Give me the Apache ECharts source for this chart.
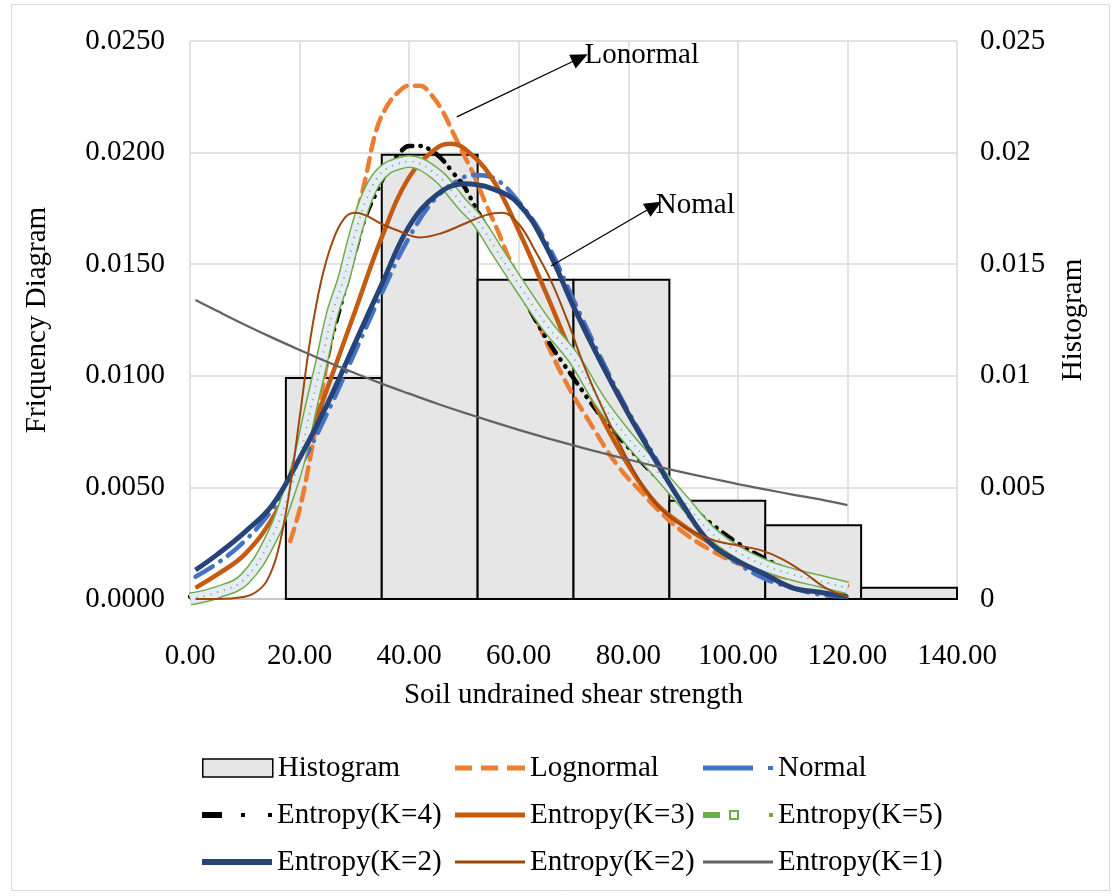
<!DOCTYPE html>
<html><head><meta charset="utf-8">
<script src="https://cdn.jsdelivr.net/npm/echarts/dist/echarts.min.js"></script>
<style>html,body{margin:0;padding:0;background:#fff}#c{width:1115px;height:896px}</style>
</head><body><div id="c"></div>
<script>
// ---------- data ----------
const histEdges  = [17.5, 35, 52.5, 70, 87.5, 105, 122.5, 140];
const histValues = [0.0099, 0.0199, 0.0143, 0.0143, 0.0044, 0.0033, 0.0005];

const lognormalX = [18.3,20,22,24,26,28,30,32,34,36,38,40,42,44,46,48,50,52,54,56,58,60,62,64,66,68,70,72,74,76,78,80,82,85,90,95,100,105,110,115,120];
const lognormalY = [0.0026,0.0040,0.0064,0.0092,0.0119,0.0143,0.0167,0.0188,0.0210,0.0221,0.0227,0.0230,0.0230,0.0226,0.0219,0.0209,0.0199,0.0189,0.0177,0.0166,0.0154,0.0143,0.0132,0.0121,0.0110,0.0100,0.0091,0.0083,0.0075,0.0067,0.0060,0.0054,0.0049,0.0041,0.0030,0.0022,0.0016,0.0012,0.0009,0.0007,0.0006];

const normalX = [1,5,10,15,20,25,30,35,40,45,50,52,55,60,65,70,75,80,85,90,95,100,105,110,115,120];
const normalY = [0.0010,0.0016,0.0026,0.0040,0.0059,0.0083,0.0110,0.0137,0.0162,0.0180,0.0189,0.0190,0.0189,0.0178,0.0160,0.0134,0.0108,0.0084,0.0063,0.0041,0.0026,0.0016,0.0009,0.0005,0.0002,0.0001];

const k4X = [0,5,10,15,18,20,22,24,26,28,30,32,34,36,38,40,42,44,46,48,50,52,54,56,60,65,70,75,80,85,90,95,100,105,110,115,120];
const k4Y = [0.0001,0.0003,0.0010,0.0028,0.0048,0.0065,0.0080,0.0098,0.0118,0.0136,0.0154,0.0171,0.0182,0.0192,0.0199,0.0203,0.0203,0.0201,0.0197,0.0191,0.0185,0.0176,0.0167,0.0159,0.0139,0.0117,0.0099,0.0082,0.0068,0.0055,0.0044,0.0034,0.0025,0.0018,0.0012,0.0008,0.0005];

const k3X = [1,5,10,15,20,25,30,35,40,45,47.5,50,55,60,65,70,75,80,85,90,95,100,105,110,115,120];
const k3Y = [0.0005,0.0011,0.0020,0.0036,0.0060,0.0094,0.0128,0.0162,0.0189,0.0202,0.0204,0.0202,0.0189,0.0165,0.0137,0.0108,0.0082,0.0060,0.0043,0.0033,0.0025,0.0018,0.0013,0.0010,0.0008,0.0006];

const k5X = [0,5,10,15,18,20,22,24,26,28,30,32,34,36,38,40,42,44,46,48,50,52,54,56,60,65,70,75,80,85,90,95,100,105,110,115,120];
const k5Y = [0.0000,0.0003,0.0009,0.0028,0.0047,0.0063,0.0085,0.0106,0.0128,0.0143,0.0162,0.0178,0.0188,0.0193,0.0195,0.0196,0.0195,0.0192,0.0188,0.0182,0.0176,0.0171,0.0164,0.0156,0.0141,0.0123,0.0108,0.0088,0.0072,0.0058,0.0044,0.0030,0.0021,0.0015,0.0011,0.0008,0.0005];

const k2X = [1,5,10,15,20,25,30,35,40,45,50,55,60,65,70,75,80,85,90,95,100,105,110,115,120];
const k2Y = [0.0013,0.0020,0.0030,0.0042,0.0063,0.0087,0.0114,0.0141,0.0167,0.0181,0.0186,0.0184,0.0177,0.0158,0.0131,0.0106,0.0083,0.0062,0.0042,0.0025,0.0017,0.0011,0.0005,0.0003,0.0001];

const k2bX = [1,5,10,12,14,16,18,20,22,24,26,28,30,32,35,38,42,46,50,54,57,60,63,66,69,72,75,80,84,88,92,96,100,104,108,112,116,120];
const k2bY = [0.0000,0.0000,0.0001,0.0003,0.0008,0.0021,0.0046,0.0081,0.0117,0.0143,0.0160,0.0170,0.0173,0.0172,0.0168,0.0165,0.0162,0.0164,0.0168,0.0172,0.0173,0.0168,0.0156,0.0142,0.0124,0.0104,0.0087,0.0062,0.0046,0.0036,0.0030,0.0026,0.0024,0.0022,0.0018,0.0012,0.0005,0.0001];

const k1X = [1,5,10,15,20,25,30,35,40,45,50,55,60,65,70,75,80,85,90,95,100,105,110,115,120];
const k1Y = [0.01340,0.01290,0.01229,0.01171,0.01116,0.01063,0.01013,0.00965,0.00920,0.00876,0.00835,0.00796,0.00758,0.00722,0.00688,0.00656,0.00625,0.00595,0.00567,0.00541,0.00515,0.00491,0.00468,0.00446,0.00421];

const xTicks = {min: 0, max: 140, step: 20};
const yTicks = {min: 0, max: 0.025, step: 0.005};

// annotation arrows (data space)
const lonormalArrow = [[48.7, 0.0216], [71.2, 0.02424]];
const nomalArrow    = [[65.9, 0.01492], [84.7, 0.01761]];

// ---------- chart ----------
const FONT = 'Liberation Serif';
const FS = 29;
const pairs = (xs, ys) => xs.map((x, i) => [x, ys[i]]);
const histData = histValues.map((v, i) => [histEdges[i], histEdges[i + 1], v]);

function lineSeries(name, xs, ys, ls, extra) {
  return Object.assign({
    name, type: 'line', data: pairs(xs, ys), symbol: 'none', smooth: 0.4,
    xAxisIndex: 0, yAxisIndex: 0, lineStyle: ls, silent: true
  }, extra || {});
}

// legend icons (shapes only)
const ICON = {
  lognormal: 'path://M0,0h17v5h-17z M26,0h17v5h-17z M52,0h18v5h-18z',
  normal: 'path://M0,0h50v5h-50z M65,0.5h4v4h-4z M69,0.5h1v4h-1z',
  k4: 'path://M0,0h20v6h-20z M39,1h4v4h-4z M66,1h4v4h-4z',
  k5: 'path://M0,2h17v6h-17z M26,0h10v10h-10z M28,2v6h6v-6z M66,3h4v4h-4z'
};

function legendAt(name, left, top, extra) {
  return Object.assign({
    data: [name], left, top, orient: 'horizontal', padding: 0,
    itemWidth: 70, itemHeight: 18, itemGap: 0,
    textStyle: {fontFamily: FONT, fontSize: FS, color: '#000', lineHeight: 32, padding: [0, 0, 0, 0]},
    selectedMode: false
  }, extra || {});
}

const rowY = [752, 799, 846];
const colX = [202, 455, 703];

const option = {
  animation: false,
  textStyle: {fontFamily: FONT},
  graphic: [{type: 'rect', shape: {x: 11.5, y: 4.5, width: 1098, height: 886}, style: {fill: 'none', stroke: '#d9d9d9', lineWidth: 1}, silent: true}],
  grid: {left: 190, right: 158, top: 41, bottom: 297},
  xAxis: {
    type: 'value', min: xTicks.min, max: xTicks.max, interval: xTicks.step,
    name: 'Soil undrained shear strength', nameLocation: 'middle', nameGap: 82,
    nameTextStyle: {fontFamily: FONT, fontSize: FS, color: '#000'},
    axisLine: {show: true, lineStyle: {color: '#bfbfbf', width: 1.5}},
    axisTick: {show: false},
    axisLabel: {formatter: v => v.toFixed(2), fontFamily: FONT, fontSize: FS, color: '#000', margin: 43},
    splitLine: {show: true, lineStyle: {color: '#d9d9d9', width: 1.5}}
  },
  yAxis: [{
    type: 'value', min: yTicks.min, max: yTicks.max, interval: yTicks.step, position: 'left',
    name: 'Friquency Diagram', nameLocation: 'middle', nameRotate: 90, nameGap: 138,
    nameTextStyle: {fontFamily: FONT, fontSize: FS, color: '#000'},
    axisLine: {show: false}, axisTick: {show: false},
    axisLabel: {formatter: v => v.toFixed(4), fontFamily: FONT, fontSize: FS, color: '#000', margin: 25},
    splitLine: {show: true, lineStyle: {color: '#d9d9d9', width: 1.5}}
  }, {
    type: 'value', min: yTicks.min, max: yTicks.max, interval: yTicks.step, position: 'right',
    name: 'Histogram', nameLocation: 'middle', nameRotate: 90, nameGap: 102,
    nameTextStyle: {fontFamily: FONT, fontSize: FS, color: '#000'},
    axisLine: {show: false}, axisTick: {show: false},
    axisLabel: {formatter: v => String(+v.toFixed(3)), fontFamily: FONT, fontSize: FS, color: '#000', margin: 23},
    splitLine: {show: false}
  }],
  legend: [
    legendAt('Histogram', colX[0], rowY[0], {data: [{name: 'Histogram', icon: 'rect'}], itemStyle: {color: '#E7E6E6', borderColor: '#000', borderWidth: 1.5}}),
    legendAt('Lognormal', colX[1], rowY[0], {data: [{name: 'Lognormal', icon: ICON.lognormal}], itemHeight: 5, itemStyle: {color: '#ED7D31', borderWidth: 0}}),
    legendAt('Normal', colX[2], rowY[0], {data: [{name: 'Normal', icon: ICON.normal}], itemHeight: 5, itemStyle: {color: '#4472C4', borderWidth: 0}}),
    legendAt('Entropy(K=4)', colX[0], rowY[1], {data: [{name: 'Entropy(K=4)', icon: ICON.k4}], itemHeight: 6, itemStyle: {color: '#000', borderWidth: 0}}),
    legendAt('Entropy(K=3)', colX[1], rowY[1], {data: [{name: 'Entropy(K=3)', icon: 'rect'}], itemHeight: 5, itemStyle: {color: '#C55A11', borderWidth: 0}}),
    legendAt('Entropy(K=5)', colX[2], rowY[1], {data: [{name: 'Entropy(K=5)', icon: ICON.k5}], itemHeight: 10, itemStyle: {color: '#70AD47', borderWidth: 0}}),
    legendAt('Entropy(K=2)', colX[0], rowY[2], {data: [{name: 'Entropy(K=2)', icon: 'rect'}], itemHeight: 6, itemStyle: {color: '#264478', borderWidth: 0}}),
    legendAt('Entropy(K=2) ', colX[1], rowY[2], {data: [{name: 'Entropy(K=2) ', icon: 'rect'}], itemHeight: 3, itemStyle: {color: '#9E480E', borderWidth: 0}}),
    legendAt('Entropy(K=1)', colX[2], rowY[2], {data: [{name: 'Entropy(K=1)', icon: 'rect'}], itemHeight: 3, itemStyle: {color: '#636363', borderWidth: 0}})
  ],
  series: [
    {
      name: 'Histogram', type: 'custom', xAxisIndex: 0, yAxisIndex: 1, data: histData, silent: true,
      encode: {x: [0, 1], y: 2},
      itemStyle: {color: '#E7E6E6', borderColor: '#000', borderWidth: 2},
      renderItem: (params, api) => {
        const p0 = api.coord([api.value(0), api.value(2)]);
        const p1 = api.coord([api.value(1), 0]);
        return {type: 'rect', shape: {x: p0[0], y: p0[1], width: p1[0] - p0[0], height: p1[1] - p0[1]},
          style: {fill: '#E7E6E6', stroke: '#000', lineWidth: 2}};
      }
    },
    lineSeries('Lognormal', lognormalX, lognormalY, {color: '#ED7D31', width: 4.5, type: [13, 8], cap: 'round'}, {
      itemStyle: {color: '#ED7D31'},
      markLine: {
        silent: true, symbol: ['none', 'triangle'], symbolSize: [15, 17], animation: false,
        lineStyle: {color: '#000', width: 1.3, type: 'solid'},
        label: {show: true, position: 'end', formatter: 'Lonormal', fontFamily: FONT, fontSize: FS, color: '#000', distance: 5},
        data: [[{coord: lonormalArrow[0]}, {coord: lonormalArrow[1]}]]
      }
    }),
    lineSeries('Normal', normalX, normalY, {color: '#4472C4', width: 4.5, type: [20, 9, 0.5, 9], cap: 'round'}, {
      itemStyle: {color: '#4472C4'},
      markLine: {
        silent: true, symbol: ['none', 'triangle'], symbolSize: [15, 17], animation: false,
        lineStyle: {color: '#000', width: 1.3, type: 'solid'},
        label: {show: true, position: 'end', formatter: 'Nomal', fontFamily: FONT, fontSize: FS, color: '#000', distance: 2},
        data: [[{coord: nomalArrow[0]}, {coord: nomalArrow[1]}]]
      }
    }),
    lineSeries('Entropy(K=4)', k4X, k4Y, {color: '#000', width: 4.5, type: [12, 8, 0.5, 8, 0.5, 8], cap: 'round'}, {itemStyle: {color: '#000'}}),
    lineSeries('Entropy(K=3)', k3X, k3Y, {color: '#C55A11', width: 4.5}, {itemStyle: {color: '#C55A11'}}),
    lineSeries('Entropy(K=5)', k5X, k5Y, {color: '#70AD47', width: 13}, {itemStyle: {color: '#70AD47'}}),
    lineSeries('k5fill', k5X, k5Y, {color: '#E6ECF7', width: 10}),
    lineSeries('k5dots', k5X, k5Y, {color: '#70AD47', width: 2, type: [1, 6]}),
    lineSeries('Entropy(K=2)', k2X, k2Y, {color: '#264478', width: 5}, {itemStyle: {color: '#264478'}}),
    lineSeries('Entropy(K=2) ', k2bX, k2bY, {color: '#9E480E', width: 2}, {itemStyle: {color: '#9E480E'}}),
    lineSeries('Entropy(K=1)', k1X, k1Y, {color: '#636363', width: 2.25}, {itemStyle: {color: '#636363'}})
  ]
};

const chart = echarts.init(document.getElementById('c'), null, {renderer: 'canvas'});
chart.setOption(option);
</script>
</body></html>
